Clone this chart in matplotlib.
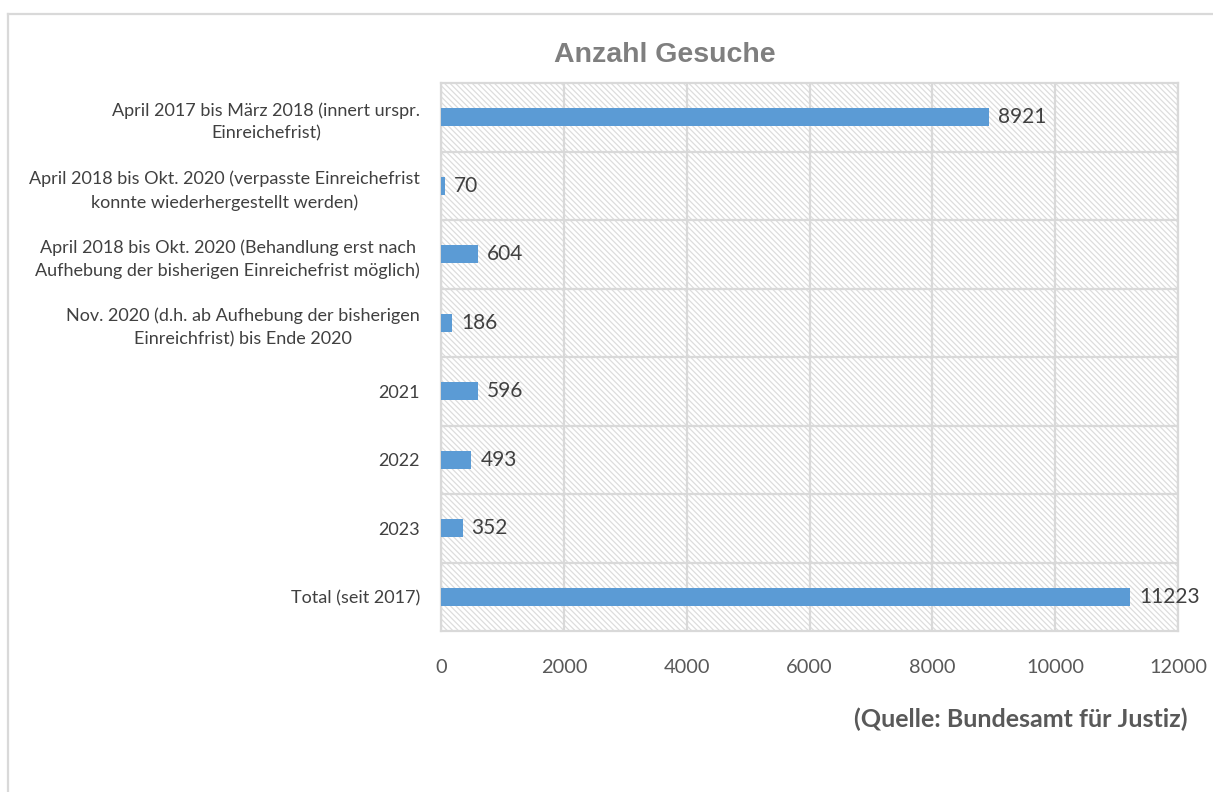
import matplotlib
matplotlib.use("Agg")
import matplotlib.pyplot as plt
from matplotlib.patches import Rectangle
from matplotlib.lines import Line2D

categories = [
    "April 2017 bis März 2018 (innert urspr.\nEinreichefrist)",
    "April 2018 bis Okt. 2020 (verpasste Einreichefrist\nkonnte wiederhergestellt werden)",
    "April 2018 bis Okt. 2020 (Behandlung erst nach\nAufhebung der bisherigen Einreichefrist möglich)",
    "Nov. 2020 (d.h. ab Aufhebung der bisherigen\nEinreichfrist) bis Ende 2020",
    "2021",
    "2022",
    "2023",
    "Total (seit 2017)",
]
values = [8921, 70, 604, 186, 596, 493, 352, 11223]
xticks = [0, 2000, 4000, 6000, 8000, 10000, 12000]
title = "Anzahl Gesuche"
source = "(Quelle: Bundesamt für Justiz)"

W, H = 1213, 792
plt.rcParams['hatch.color'] = '#DDDDDD'
plt.rcParams['hatch.linewidth'] = 0.9
fig = plt.figure(figsize=(W / 100, H / 100), dpi=100)
fig.patch.set_facecolor("white")

ax = fig.add_axes([441 / W, 1 - 631 / H, (1178 - 441) / W, (631 - 83) / H])

bg = Rectangle((0, 0), 1, 1, transform=ax.transAxes, facecolor="white",
               edgecolor="#DDDDDD", hatch="\\\\\\\\\\\\", linewidth=0, zorder=0)
ax.add_patch(bg)

ypos = list(range(len(categories)))
ax.barh(ypos, values, height=0.27, color="#5B9BD5", zorder=3)

ax.set_xlim(0, 12000)
ax.set_ylim(len(categories) - 0.5, -0.5)
ax.set_xticks(xticks)
ax.set_xticklabels([str(t) for t in xticks])
ax.set_yticks(ypos)
ax.set_yticklabels(categories, multialignment="center", linespacing=1.5)

# gridlines
for t in xticks:
    ax.axvline(t, color="#D9D9D9", lw=1.6, zorder=1)
for b in [i + 0.5 for i in range(len(categories) - 1)]:
    ax.axhline(b, color="#D9D9D9", lw=1.6, zorder=1)
for s in ax.spines.values():
    s.set_color("#D9D9D9")
    s.set_linewidth(1.6)
    s.set_zorder(2)

ax.tick_params(axis="both", length=0)
ax.tick_params(axis="x", pad=20, labelsize=14.4, labelcolor="#595959")
ax.tick_params(axis="y", pad=15, labelsize=13, labelcolor="#404040")
for lbl in ax.get_xticklabels():
    lbl.set_family("Lato")
for lbl in ax.get_yticklabels():
    lbl.set_family("Lato")

for y, v in zip(ypos, values):
    ax.annotate(str(v), (v, y), xytext=(6.5, 0), textcoords="offset points",
                ha="left", va="center", fontsize=15, color="#404040",
                family="Lato", zorder=4)

fig.text(665 / W, 1 - 55 / H, title, ha="center", va="center",
         fontsize=20.5, fontweight="bold", color="#7F7F7F",
         family="Liberation Sans")
fig.text(1188 / W, 1 - 719 / H, source, ha="right", va="center",
         fontsize=18, fontweight="bold", color="#595959", family="Lato")

# outer chart border (top and left visible)
fig.add_artist(Line2D([8 / W, 8 / W], [0, 1 - 14 / H], transform=fig.transFigure,
                      color="#D9D9D9", lw=1.6))
fig.add_artist(Line2D([8 / W, 1], [1 - 14 / H, 1 - 14 / H], transform=fig.transFigure,
                      color="#D9D9D9", lw=1.6))

fig.savefig("out.png", dpi=100, facecolor="white")
